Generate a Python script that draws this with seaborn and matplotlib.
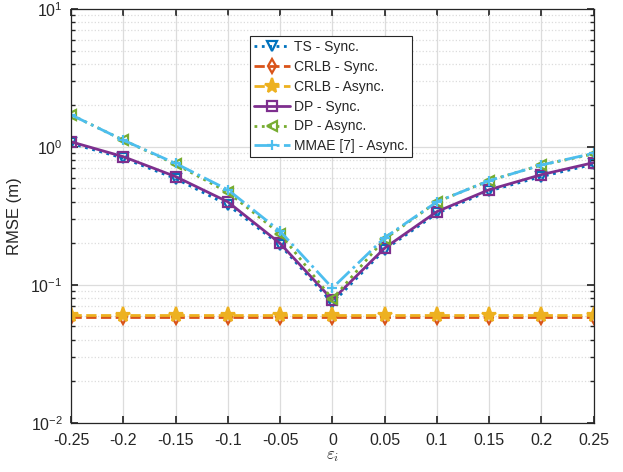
import matplotlib
matplotlib.use('Agg')
import matplotlib.pyplot as plt
import numpy as np
import pandas as pd
import seaborn as sns

sns.set_theme(style='ticks')
plt.rcParams['font.family'] = ['Liberation Sans', 'DejaVu Sans']
plt.rcParams['mathtext.fontset'] = 'cm'

eps = [-0.25, -0.2, -0.15, -0.1, -0.05, 0.0, 0.05, 0.1, 0.15, 0.2, 0.25]
ts_sync = [1.06, 0.83, 0.59, 0.38, 0.195, 0.074, 0.18, 0.33, 0.48, 0.61, 0.75]
crlb_sync = [0.059] * 11
crlb_async = [0.061] * 11
dp_sync = [1.09, 0.85, 0.61, 0.40, 0.20, 0.078, 0.185, 0.34, 0.49, 0.63, 0.77]
dp_async = [1.71, 1.12, 0.75, 0.47, 0.235, 0.079, 0.215, 0.40, 0.57, 0.74, 0.89]
mmae_async = [1.71, 1.12, 0.76, 0.49, 0.245, 0.095, 0.22, 0.40, 0.57, 0.74, 0.90]

series = [
    ('TS - Sync.', ts_sync, '#0072BD', ':', 'v', 'none'),
    ('CRLB - Sync.', crlb_sync, '#D95319', '--', 'd', 'none'),
    ('CRLB - Async.', crlb_async, '#EDB120', '--', '*', 'full'),
    ('DP - Sync.', dp_sync, '#7E2F8E', '-', 's', 'none'),
    ('DP - Async.', dp_async, '#77AC30', ':', '<', 'none'),
    ('MMAE [7] - Async.', mmae_async, '#4DBEEE', '-.', '+', 'none'),
]

fig = plt.figure(figsize=(6.23, 4.72), dpi=100)
ax = fig.add_axes([0.114, 0.104, 0.839, 0.877])

for name, vals, col, ls, mk, fs in series:
    df = pd.DataFrame({'eps': eps, 'rmse': vals})
    ms = 11 if mk == '*' else 7
    sns.lineplot(data=df, x='eps', y='rmse', ax=ax, color=col, linestyle=ls,
                 linewidth=2, marker=mk, markersize=ms, fillstyle=fs,
                 markeredgewidth=1.6, markeredgecolor=col, label=name)

ax.set_yscale('log')
ax.set_ylim(1e-2, 1e1)
ax.set_xlim(-0.25, 0.25)
ax.set_xticks(eps)
ax.set_xticklabels(['-0.25', '-0.2', '-0.15', '-0.1', '-0.05', '0', '0.05',
                    '0.1', '0.15', '0.2', '0.25'])
ax.grid(True, which='major', color='#dcdcdc', linewidth=0.9, linestyle='-')
ax.grid(True, which='minor', axis='y', color='#dcdcdc', linewidth=0.9, linestyle=':')
ax.set_axisbelow(True)
ax.tick_params(which='both', direction='in', top=True, right=True,
               labelsize=11.5, colors='#262626')
ax.tick_params(which='major', length=5)
ax.tick_params(which='minor', length=3)
ax.tick_params(axis='x', pad=7)
ax.tick_params(axis='y', pad=6)
for sp in ax.spines.values():
    sp.set_color('#262626')
    sp.set_linewidth(0.9)
ax.set_xlabel(r'$\varepsilon_i$', fontsize=12, labelpad=1)
ax.set_ylabel('RMSE (m)', fontsize=12, labelpad=6)

leg = ax.legend(loc='upper left', bbox_to_anchor=(0.342, 0.935), fontsize=10,
                frameon=True, fancybox=False, framealpha=1, edgecolor='#262626',
                handlelength=2.6, borderpad=0.3, labelspacing=0.42,
                handletextpad=0.25, borderaxespad=0)
leg.get_frame().set_linewidth(0.8)

fig.savefig('out.png', dpi=100)
